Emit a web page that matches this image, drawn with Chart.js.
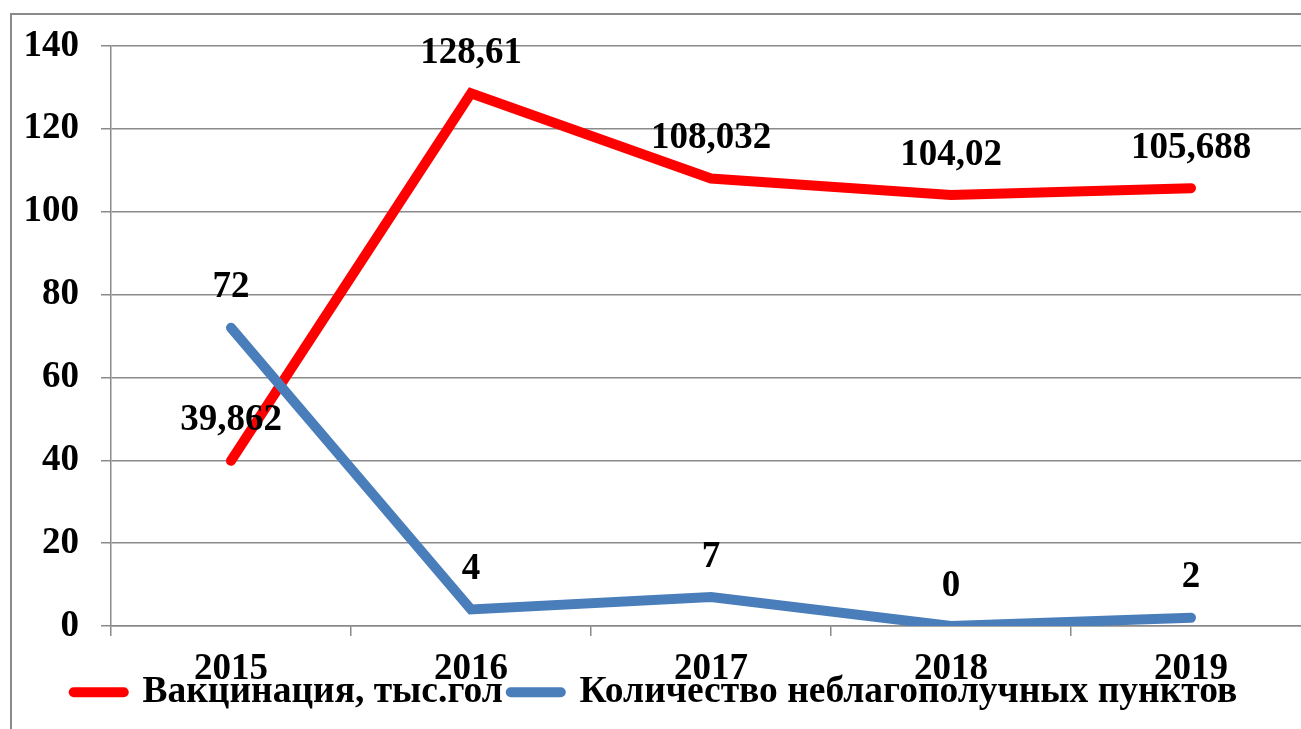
<!DOCTYPE html>
<html>
<head>
<meta charset="utf-8">
<script src="https://cdn.jsdelivr.net/npm/chart.js@4.4.1/dist/chart.umd.min.js"></script>
<style>
  html, body { margin: 0; padding: 0; background: #fff; overflow: hidden; width: 1301px; height: 729px; }
  #wrap { position: absolute; left: 0; top: 0; width: 1320px; height: 729px; }
</style>
</head>
<body>
<div id="wrap"><canvas id="c" width="1320" height="729"></canvas></div>
<script>
const categories = ['2015', '2016', '2017', '2018', '2019'];
const vaccination = [39.862, 128.61, 108.032, 104.02, 105.688];
const outbreaks = [72, 4, 7, 0, 2];
const seriesNames = ['Вакцинация, тыс.гол', 'Количество неблагополучных пунктов'];
const yTicks = [0, 20, 40, 60, 80, 100, 120, 140];

const FONT = '"Liberation Serif", "Times New Roman", serif';
const GRID = '#8a8a8a';

const framePlugin = {
  id: 'frame',
  beforeDraw(chart) {
    const ctx = chart.ctx;
    ctx.save();
    ctx.strokeStyle = '#8a8a8a';
    ctx.lineWidth = 2;
    ctx.beginPath();
    ctx.moveTo(11, 740);
    ctx.lineTo(11, 14);
    ctx.lineTo(1330, 14);
    ctx.stroke();
    ctx.restore();
  }
};

const labelPlugin = {
  id: 'pointLabels',
  afterDatasetsDraw(chart) {
    const ctx = chart.ctx;
    ctx.save();
    ctx.font = 'bold 37px ' + FONT;
    ctx.fillStyle = '#000';
    ctx.textAlign = 'center';
    ctx.textBaseline = 'middle';
    chart.data.datasets.forEach((ds, i) => {
      const meta = chart.getDatasetMeta(i);
      meta.data.forEach((el, j) => {
        const txt = String(ds.data[j]).replace('.', ',');
        ctx.fillText(txt, el.x, el.y - 40);
      });
    });
    ctx.restore();
  }
};

new Chart(document.getElementById('c'), {
  type: 'line',
  data: {
    labels: categories,
    datasets: [
      {
        label: seriesNames[0],
        data: vaccination,
        borderColor: '#ff0000',
        backgroundColor: '#ff0000',
        borderWidth: 10,
        borderCapStyle: 'round',
        pointRadius: 0,
        tension: 0,
        order: 1
      },
      {
        label: seriesNames[1],
        data: outbreaks,
        borderColor: '#4a7ebb',
        backgroundColor: '#4a7ebb',
        borderWidth: 10,
        borderCapStyle: 'round',
        pointRadius: 0,
        tension: 0,
        order: 0
      }
    ]
  },
  options: {
    responsive: false,
    animation: false,
    layout: { padding: { left: 0, top: 46, right: 9, bottom: 8 } },
    plugins: {
      tooltip: { enabled: false },
      legend: {
        position: 'bottom',
        labels: {
          usePointStyle: true,
          pointStyleWidth: 50,
          padding: 8,
          color: '#000',
          font: { family: FONT, size: 37.5, weight: 'bold' },
          generateLabels(chart) {
            return chart.data.datasets.map((ds, i) => ({
              text: ds.label,
              fillStyle: ds.borderColor,
              strokeStyle: ds.borderColor,
              lineWidth: 10,
              lineCap: 'round',
              pointStyle: 'line',
              hidden: false,
              datasetIndex: i,
              fontColor: '#000'
            }));
          }
        }
      }
    },
    scales: {
      x: {
        offset: true,
        grid: {
          offset: true,
          drawOnChartArea: false,
          drawTicks: true,
          tickLength: 10,
          color: GRID,
          lineWidth: 1.5
        },
        border: { color: GRID, width: 1.5 },
        ticks: {
          color: '#000',
          mirror: true,
          padding: -62,
          maxRotation: 0,
          font: { family: FONT, size: 37, weight: 'bold', lineHeight: 1 }
        },
        afterFit(scale) { scale.height = 39.5; }
      },
      y: {
        min: 0,
        max: 140,
        afterBuildTicks(scale) { scale.ticks = yTicks.map(v => ({ value: v })); },
        grid: {
          color: GRID,
          lineWidth: 1.5,
          drawTicks: true,
          tickLength: 10
        },
        border: { color: GRID, width: 1.5 },
        ticks: {
          color: '#000',
          padding: 22,
          font: { family: FONT, size: 37, weight: 'bold' }
        },
        afterFit(scale) { scale.width = 111; }
      }
    }
  },
  plugins: [framePlugin, labelPlugin]
});
</script>
</body>
</html>
